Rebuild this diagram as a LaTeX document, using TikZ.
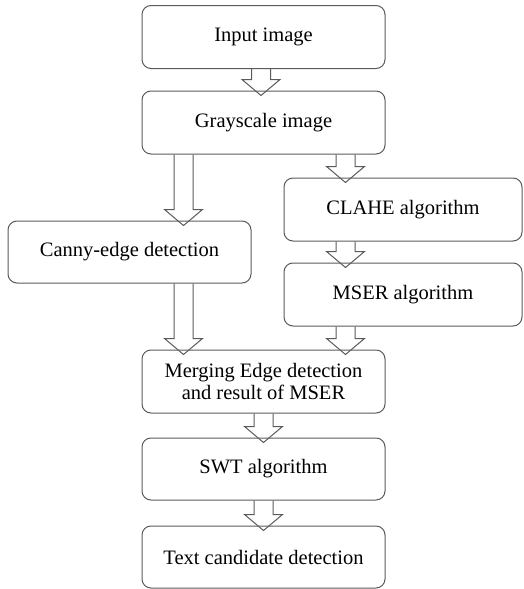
\documentclass[tikz,border=0pt]{standalone}
\usepackage{fontspec}
\setmainfont{Liberation Serif}
\newfontfamily\tnrfont{Liberation Serif}
\usetikzlibrary{calc}
\definecolor{linegray}{HTML}{5A5A5A}
\tikzset{
  box/.style={draw=linegray, line width=1pt, rounded corners=9pt, inner sep=0pt,
    minimum width=243pt, minimum height=63pt, align=center,
    font=\tnrfont\fontsize{20.5}{23}\selectfont, text=black},
  sidebox/.style={box, minimum width=238pt},
  barrow/.style={draw=linegray, line width=1pt, line join=miter}
}
% #1 x position, #2 source node, #3 target node
\newcommand\blockarrow[3]{%
  \draw[barrow] let \p1=(#2.south), \p2=(#3.north) in
    (#1-9.5, \y1) -- (#1-9.5, \y2+11) -- (#1-19, \y2+11) -- (#1, \y2-5)
    -- (#1+19, \y2+11) -- (#1+9.5, \y2+11) -- (#1+9.5, \y1);
}
\begin{document}
\begin{tikzpicture}[x=1pt,y=-1pt]
\useasboundingbox (0,0) rectangle (523,589);
\node[box] (input) at (263.5,37) {Input image};
\node[box] (gray) at (263.5,122.5) {Grayscale image};
\node[sidebox] (clahe) at (403,209.5) {CLAHE algorithm};
\node[box, minimum height=62pt] (canny) at (129.5,252) {Canny-edge detection};
\node[sidebox] (mser) at (403,294.5) {MSER algorithm};
\node[box, font=\tnrfont\fontsize{20.5}{21.5}\selectfont] (merge) at (263.5,381.5) {Merging Edge detection\\and result of MSER};
\node[box, minimum height=62pt] (swt) at (263.5,469) {SWT algorithm};
\node[box, minimum height=62pt] (text) at (263.5,557) {Text candidate detection};
\blockarrow{261}{input}{gray}
\blockarrow{345.5}{gray}{clahe}
\blockarrow{183.5}{gray}{canny}
\blockarrow{345.5}{clahe}{mser}
\blockarrow{183.5}{canny}{merge}
\blockarrow{345.5}{mser}{merge}
\blockarrow{263.5}{merge}{swt}
\blockarrow{263.5}{swt}{text}
\end{tikzpicture}
\end{document}
